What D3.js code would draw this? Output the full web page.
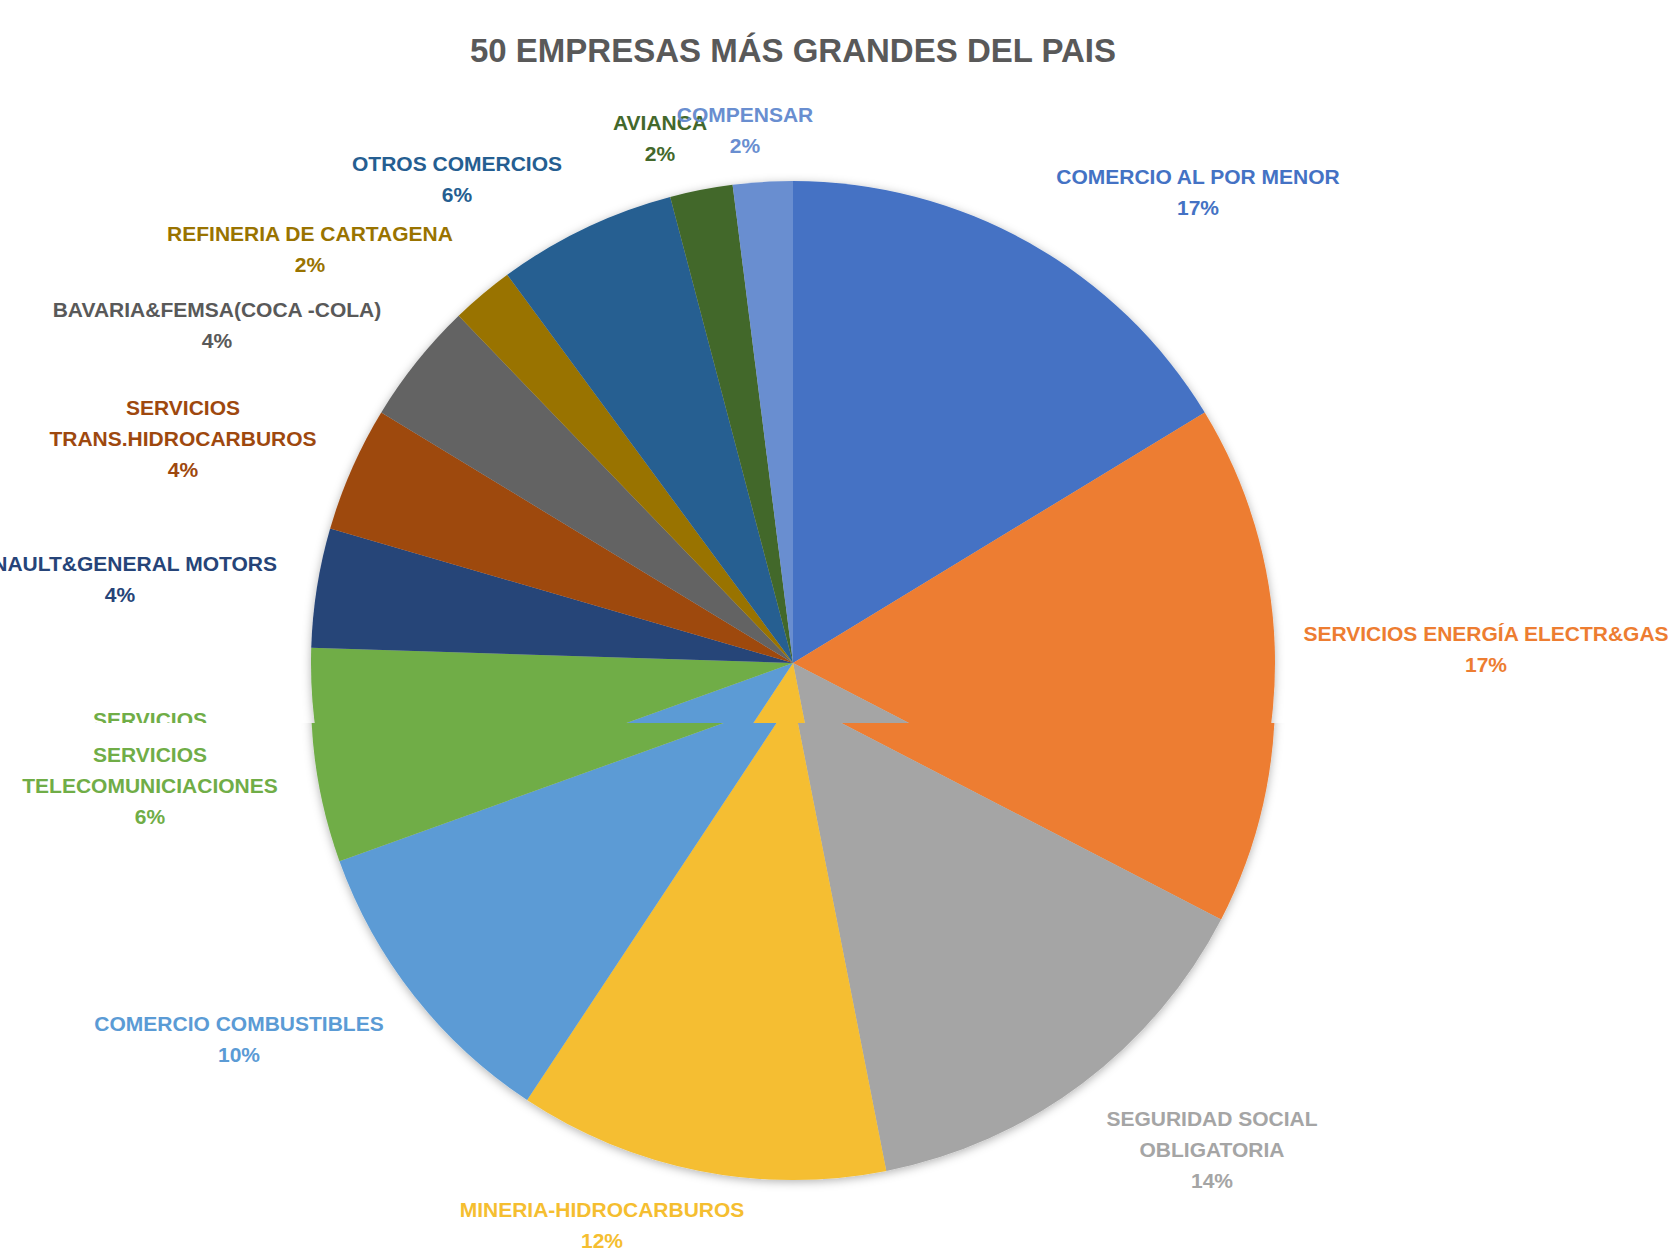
<!DOCTYPE html>
<html>
<head>
<meta charset="utf-8">
<script src="https://cdn.jsdelivr.net/npm/d3@7"></script>
<style>
  html, body { margin: 0; padding: 0; background: #ffffff; }
  svg { display: block; }
</style>
</head>
<body>
<svg id="chart" width="1668" height="1249"></svg>
<script>
// ---------- data ----------
const title = "50 EMPRESAS MÁS GRANDES DEL PAIS";
const categories = [
  "COMERCIO AL POR MENOR",
  "SERVICIOS ENERGÍA ELECTR&GAS",
  "SEGURIDAD SOCIAL\nOBLIGATORIA",
  "MINERIA-HIDROCARBUROS",
  "COMERCIO COMBUSTIBLES",
  "SERVICIOS\nTELECOMUNICIACIONES",
  "RENAULT&GENERAL MOTORS",
  "SERVICIOS\nTRANS.HIDROCARBUROS",
  "BAVARIA&FEMSA(COCA -COLA)",
  "REFINERIA DE CARTAGENA",
  "OTROS COMERCIOS",
  "AVIANCA",
  "COMPENSAR"
];
const shares = [16.3, 16.3, 14.3, 12.4, 10.2, 6.0, 4.0, 4.2, 4.1, 2.1, 6.0, 2.1, 2.0];
const pctLabels = ["17%", "17%", "14%", "12%", "10%", "6%", "4%", "4%", "4%", "2%", "6%", "2%", "2%"];
const colors = ["#4472C4", "#ED7D31", "#A5A5A5", "#F5BE30", "#5B9BD5", "#70AD47",
                "#264478", "#9E480E", "#636363", "#997300", "#255E91", "#43682B", "#698ED0"];
const labelColors = ["#4472C4", "#ED7D31", "#A5A5A5", "#F5BE30", "#5B9BD5", "#70AD47",
                "#264478", "#9E480E", "#595959", "#997300", "#255E91", "#43682B", "#698ED0"];

// ---------- layout (label anchors relative to pie centre) ----------
const W = 1668, H = 1249;
const cx = 793, cy = 663, R = 482;
const lineH = 31, fontSize = 21;
const labelOffsets = [
  [405, -486], [693, -29], [419, 421], [-191, 512], [-554, 326], [-643, 57],
  [-673, -99], [-610, -255], [-576, -353], [-483, -429], [-336, -499], [-133, -540], [-48, -548]
];
// the source image is made of two stitched captures: everything below cutY is offset by `shift`
const cutY = 723, shift = 35;

const svg = d3.select("#chart");
const defs = svg.append("defs");
const f = defs.append("filter").attr("id", "shadow")
  .attr("x", "-10%").attr("y", "-10%").attr("width", "120%").attr("height", "120%");
f.append("feDropShadow").attr("dx", 0).attr("dy", 2).attr("stdDeviation", 5)
  .attr("flood-color", "#000").attr("flood-opacity", 0.3);
defs.append("clipPath").attr("id", "clipTop")
  .append("rect").attr("x", 0).attr("y", 0).attr("width", W).attr("height", cutY);
defs.append("clipPath").attr("id", "clipBot")
  .append("rect").attr("x", 0).attr("y", cutY - shift).attr("width", W).attr("height", H);

const pie = d3.pie().sort(null).value(d => d).startAngle(0).endAngle(2 * Math.PI);
const arcs = pie(shares);
const arc = d3.arc().innerRadius(0).outerRadius(R);

// label lines with absolute (unshifted) positions
const labelLines = [];
categories.forEach((c, i) => {
  c.split("\n").concat([pctLabels[i]]).forEach((ln, k) => {
    labelLines.push({ text: ln, i, x: cx + labelOffsets[i][0], y: cy + labelOffsets[i][1] + k * lineH });
  });
});

function drawChart(g, part) {
  if (part === "top") {
    g.append("text")
      .attr("x", cx).attr("y", 50).attr("dy", "0.35em")
      .attr("text-anchor", "middle")
      .attr("font-family", "Liberation Sans, Arial, sans-serif")
      .attr("font-weight", "bold").attr("font-size", 33)
      .attr("fill", "#595959")
      .text(title);
  }
  const pg = g.append("g").attr("transform", `translate(${cx},${cy})`).attr("filter", "url(#shadow)");
  pg.selectAll("path").data(arcs).join("path")
    .attr("d", arc)
    .attr("fill", (d, i) => colors[i]);

  const half = fontSize / 2;
  const lines = labelLines.filter(d => part === "top"
    ? d.y - half < cutY
    : d.y + half > cutY - shift);
  g.append("g").selectAll("text").data(lines).join("text")
    .attr("x", d => d.x).attr("y", d => d.y).attr("dy", "0.35em")
    .attr("text-anchor", "middle")
    .attr("font-family", "Liberation Sans, Arial, sans-serif")
    .attr("font-weight", "bold").attr("font-size", fontSize)
    .attr("fill", d => labelColors[d.i])
    .text(d => d.text);
}

const gTop = svg.append("g").attr("clip-path", "url(#clipTop)");
drawChart(gTop, "top");
const gBot = svg.append("g").attr("transform", `translate(0,${shift})`).attr("clip-path", "url(#clipBot)");
drawChart(gBot, "bottom");
</script>
</body>
</html>
